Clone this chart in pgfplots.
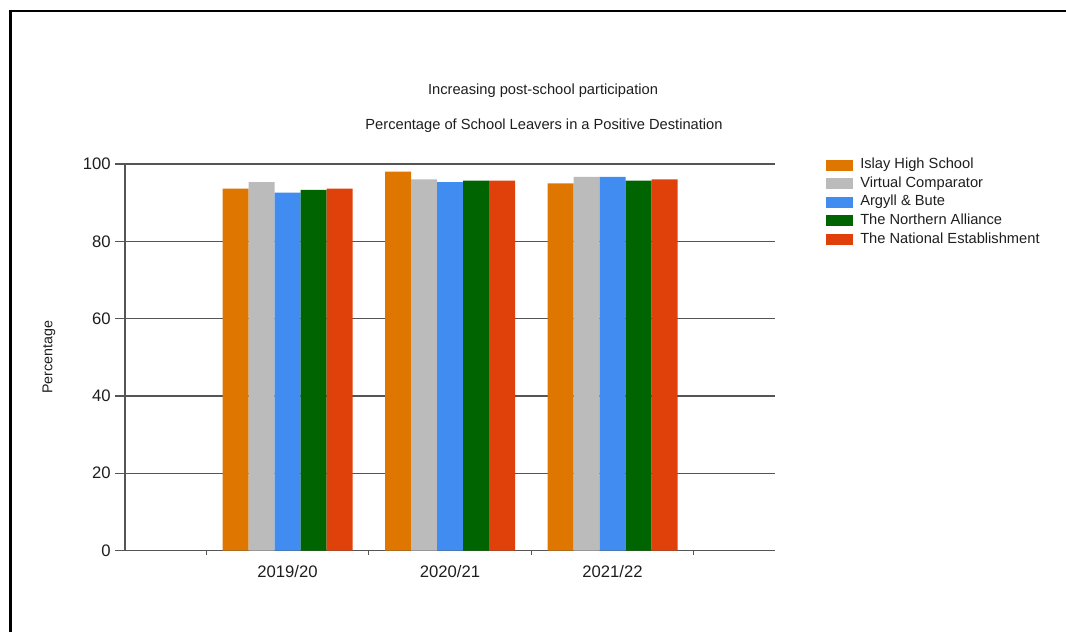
\documentclass[border=0pt]{standalone}
\usepackage{pgfplots}
\pgfplotsset{compat=1.18}
\usepackage{fontspec}
\setmainfont{Liberation Sans}
\definecolor{cOrange}{RGB}{222,118,0}
\definecolor{cGray}{RGB}{187,187,187}
\definecolor{cBlue}{RGB}{65,140,240}
\definecolor{cGreen}{RGB}{0,100,0}
\definecolor{cRed}{RGB}{224,64,10}
\definecolor{gridc}{RGB}{85,85,85}
\definecolor{txt}{RGB}{30,30,30}
\pgfplotsset{mylegend/.style={legend image code/.code={\fill[##1] (0pt,-4.125pt) rectangle (20.25pt,4.125pt);}}}
\begin{document}
\begin{tikzpicture}
\path[use as bounding box] (0,0) rectangle (799.5pt,-474pt);
\draw[line width=2pt] (7.75pt,-474pt) -- (7.75pt,-8.25pt) -- (799.5pt,-8.25pt);
\node[font=\fontsize{11}{13}\selectfont, text=txt] at (407.25pt,-68.25pt) {Increasing post-school participation};
\node[font=\fontsize{11}{13}\selectfont, text=txt] at (408pt,-94.5pt) {Percentage of School Leavers in a Positive Destination};
\begin{axis}[
  at={(93.75pt,-412.875pt)}, anchor=south west,
  scale only axis, width=487.5pt, height=289.875pt,
  xmin=0, xmax=4, ymin=0, ymax=100,
  ybar=0pt, bar width=0.16,
  axis x line*=bottom, axis y line*=left,
  axis line style={gridc, line width=1pt, -},
  xtick={0.5,1.5,2.5,3.5}, xticklabels={},
  extra x ticks={1,2,3},
  extra x tick labels={2019/20,2020/21,2021/22},
  extra x tick style={grid=none, major tick length=0pt, tick style={draw=none}, xtick style={draw=none}},
  ytick={0,20,...,100},
  ymajorgrids, grid style={gridc, line width=1pt},
  tick align=outside,
  xtick style={gridc, line width=1pt, /pgfplots/major tick length=3pt},
  ytick style={gridc, line width=1pt, /pgfplots/major tick length=7.5pt},
  /pgf/number format/assume math mode=true,
  ticklabel style={font=\fontsize{12.5}{15}\selectfont, text=txt},
  xticklabel style={yshift=-8pt},
  yticklabel style={xshift=-3pt},
  ylabel={Percentage},
  ylabel style={at={(axis description cs:-0.117,0.5)}, anchor=center, font=\fontsize{10.7}{13}\selectfont, text=txt},
  legend style={at={(axis description cs:1.0723,1.0226)}, anchor=north west, draw=none, fill=none,
    font=\fontsize{11}{13}\selectfont, text=txt, row sep=3.4pt, column sep=5.25pt,
    nodes={inner sep=0pt, text height=8pt, text depth=2.5pt}},
  legend cell align=left,
]
\addplot[fill=cOrange, draw=none, mylegend] coordinates {(1,93.6) (2,98.0) (3,95.0)};
\addplot[fill=cGray, draw=none, mylegend] coordinates {(1,95.3) (2,96.0) (3,96.7)};
\addplot[fill=cBlue, draw=none, mylegend] coordinates {(1,92.6) (2,95.3) (3,96.7)};
\addplot[fill=cGreen, draw=none, mylegend] coordinates {(1,93.3) (2,95.7) (3,95.7)};
\addplot[fill=cRed, draw=none, mylegend] coordinates {(1,93.6) (2,95.7) (3,96.0)};
\legend{Islay High School, Virtual Comparator, Argyll \& Bute, The Northern Alliance, The National Establishment}
\end{axis}
\end{tikzpicture}
\end{document}
